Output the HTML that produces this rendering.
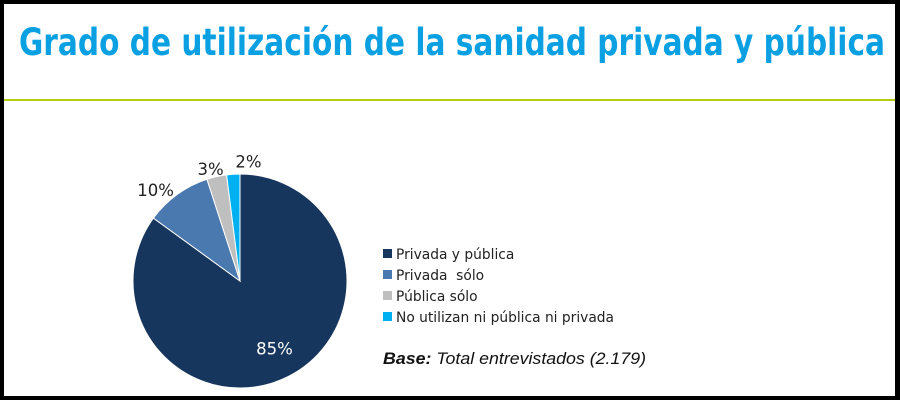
<!DOCTYPE html>
<html><head><meta charset="utf-8"><style>
html,body{margin:0;padding:0;background:#000;}
#frame{position:absolute;left:0;top:0;width:900px;height:400px;background:#000;}
#inner{position:absolute;left:4px;top:4px;width:891px;height:392px;background:#fff;}
svg{position:absolute;left:0;top:0;}
</style></head><body>
<div id="frame"><div id="inner"></div></div>
<svg id="chart" width="900" height="400">
<text x="452" y="55" text-anchor="middle" textLength="866" lengthAdjust="spacingAndGlyphs" font-family="DejaVu Sans, sans-serif" font-weight="bold" font-size="37" fill="#0aa0e2">Grado de utilización de la sanidad privada y pública</text>
<rect x="4" y="99" width="891" height="2" fill="#b5cf10"/>
<g id="slices"></g>
<g id="legend"></g>
<text x="383" y="364" textLength="263" lengthAdjust="spacingAndGlyphs" font-family="Liberation Sans, sans-serif" font-style="italic" font-size="17" fill="#111"><tspan font-weight="bold">Base:</tspan> Total entrevistados (2.179)</text>
</svg>
<script>
const categories=["Privada y pública","Privada  sólo","Pública sólo","No utilizan ni pública ni privada"];
const values=[85,10,3,2];
const labels=["85%","10%","3%","2%"];
const colors=["#17365d","#4a79b0","#bfbfbf","#00b0f0"];
const NS="http://www.w3.org/2000/svg";
const cx=240,cy=281,r=107;
const total=values.reduce((a,b)=>a+b,0);
const sg=document.getElementById('slices');
const labelR=[0.71,1.12,1.13,1.12];
const labelDx=[0,-14,-3,16];
const labelDy=[0,6,6,0];
let a0=0;
values.forEach((v,i)=>{
  const a1=a0+v/total*2*Math.PI;
  const x0=cx+r*Math.sin(a0),y0=cy-r*Math.cos(a0),x1=cx+r*Math.sin(a1),y1=cy-r*Math.cos(a1);
  const p=document.createElementNS(NS,'path');
  p.setAttribute('d',`M${cx},${cy}L${x0},${y0}A${r},${r} 0 ${a1-a0>Math.PI?1:0} 1 ${x1},${y1}Z`);
  p.setAttribute('fill',colors[i]);p.setAttribute('stroke','#fff');p.setAttribute('stroke-width','1');
  
  
  sg.appendChild(p);
  const mid=(a0+a1)/2;
  const t=document.createElementNS(NS,'text');
  const lr=r*labelR[i];
  const tx=cx+lr*Math.sin(mid)+labelDx[i], ty=cy-lr*Math.cos(mid)+6+labelDy[i];
  t.setAttribute('x',tx);t.setAttribute('y',ty);t.setAttribute('text-anchor','middle');
  t.setAttribute('font-family','DejaVu Sans, sans-serif');t.setAttribute('font-size','16.5');t.setAttribute('fill',i===0?'#fff':'#222');
  t.textContent=labels[i];
  
  
  sg.appendChild(t);
  a0=a1;
});
const lg=document.getElementById('legend');
categories.forEach((c,i)=>{
  const y=254+i*21;
  const s=document.createElementNS(NS,'rect');
  s.setAttribute('x',383);s.setAttribute('y',y-5);s.setAttribute('width',9);s.setAttribute('height',9);s.setAttribute('fill',colors[i]);
  
  
  lg.appendChild(s);
  const t=document.createElementNS(NS,'text');
  t.setAttribute('x',396);t.setAttribute('y',y+5);t.setAttribute('font-family','DejaVu Sans, sans-serif');t.setAttribute('font-size','13.8');t.setAttribute('fill','#222');
  t.style.whiteSpace='pre';
  t.textContent=c;
  
  
  lg.appendChild(t);
});
</script>
</body></html>
